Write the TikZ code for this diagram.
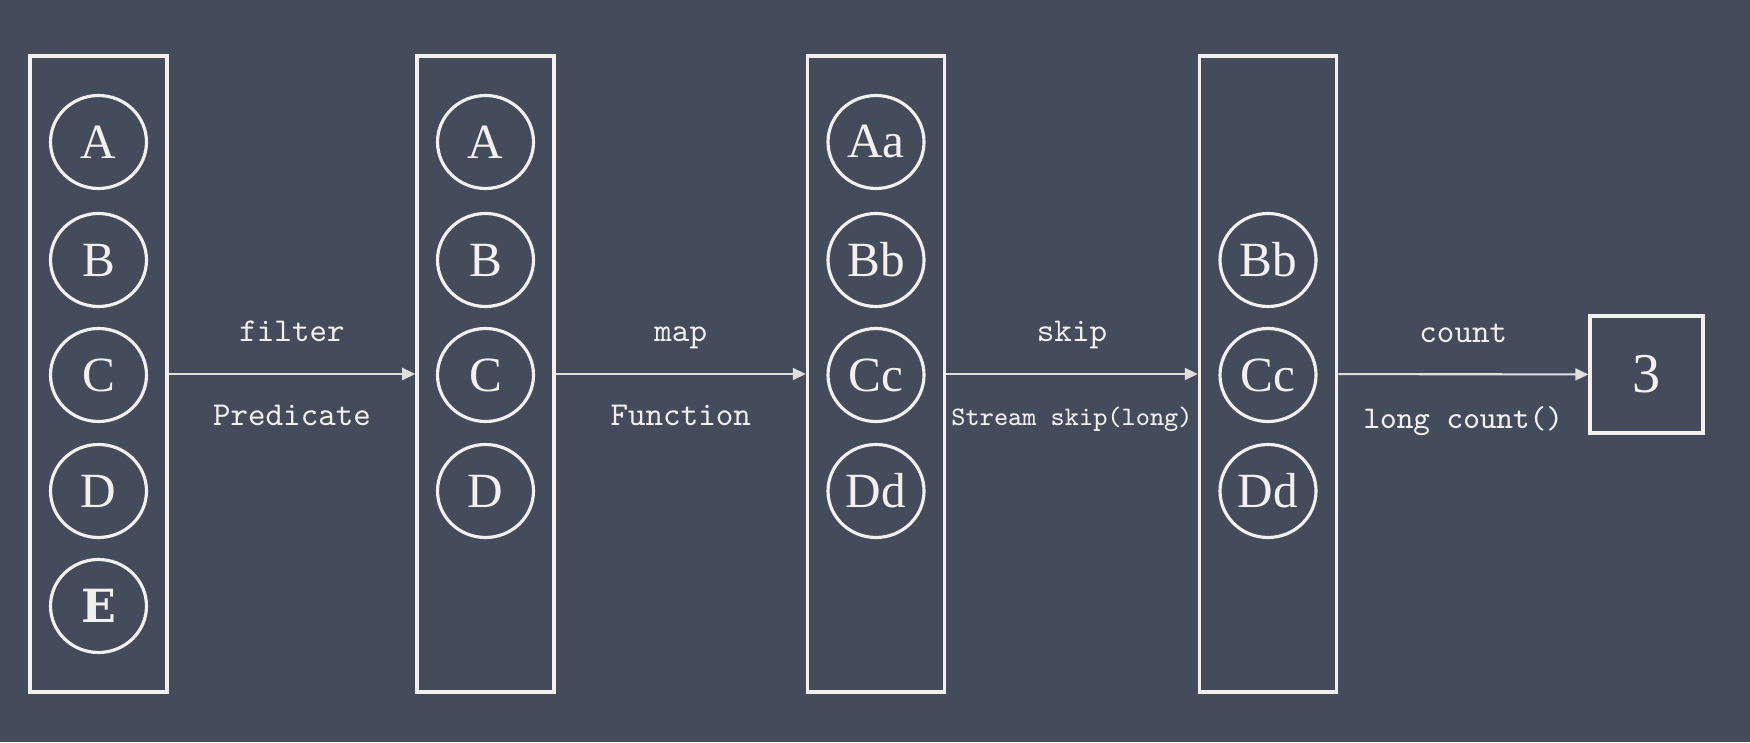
\documentclass[tikz,border=0pt]{standalone}
\usepackage{fontspec}
\setmainfont{Liberation Serif}
\newfontfamily\chalkbold{DejaVu Serif}
\usepackage{xcolor}
\usetikzlibrary{shapes.geometric,arrows.meta,positioning,calc}
\definecolor{board}{RGB}{68,76,92}
\definecolor{chalk}{RGB}{240,240,236}

\begin{document}
\begin{tikzpicture}[
    column/.style={draw=chalk,line width=1pt,minimum width=1.37cm,minimum height=6.36cm,inner sep=0pt},
    item/.style={ellipse,draw=chalk,line width=0.9pt,minimum width=0.96cm,minimum height=0.93cm,inner sep=0pt,text=chalk,font=\fontsize{14}{14}\selectfont},
    flow/.style={draw=chalk!90!board,line width=0.6pt,-{Triangle[length=1.3mm,width=1.2mm]}},
    oplabel/.style={text=chalk,anchor=base,font=\ttfamily\fontsize{9.5}{9.5}\selectfont},
    smalllabel/.style={text=chalk,anchor=base,font=\ttfamily\fontsize{7.6}{7.6}\selectfont}]
    % Chalkboard
    \fill[board] (0,0) rectangle (17.5,7.42);

    % Stream columns
    \node[column] (col1) at (0.985,3.68) {};
    \node[column] (col2) at (4.855,3.68) {};
    \node[column] (col3) at (8.76,3.68) {};
    \node[column] (col4) at (12.68,3.68) {};
    \node[column,minimum width=1.13cm,minimum height=1.17cm,text=chalk,font=\fontsize{16}{16}\selectfont] (res) at (16.465,3.675) {3};

    % Elements
    \foreach \lbl/\y [count=\i] in {A/6.00,B/4.82,C/3.67,D/2.51} {
        \node[item] (a\i) at (col1.center |- 0,\y) {\lbl};
        \node[item] (b\i) at (col2.center |- 0,\y) {\lbl};
    }
    \node[item,font=\chalkbold\bfseries\fontsize{13}{13}\selectfont] (a5) at (col1.center |- 0,1.36) {E};
    \foreach \lbl/\y [count=\i] in {Aa/6.00,Bb/4.82,Cc/3.67,Dd/2.51} {
        \node[item] (c\i) at (col3.center |- 0,\y) {\lbl};
    }
    \foreach \lbl/\y [count=\i from 2] in {Bb/4.82,Cc/3.67,Dd/2.51} {
        \node[item] (d\i) at (col4.center |- 0,\y) {\lbl};
    }

    % Operations
    \draw[flow] (col1) -- node[oplabel,yshift=0.32cm] {filter} node[oplabel,yshift=-0.52cm] {Predicate} (col2);
    \draw[flow] (col2) -- node[oplabel,yshift=0.32cm] {map} node[oplabel,yshift=-0.52cm] {Function} (col3);
    \draw[flow] (col3) -- node[oplabel,yshift=0.32cm] {skip} node[smalllabel,yshift=-0.52cm] {Stream skip(long)} (col4);
    \draw[flow] (col4) -- node[oplabel,yshift=0.32cm] {count} node[oplabel,font=\ttfamily\fontsize{9}{9}\selectfont,yshift=-0.54cm] {long count()} (res);
\end{tikzpicture}
\end{document}
